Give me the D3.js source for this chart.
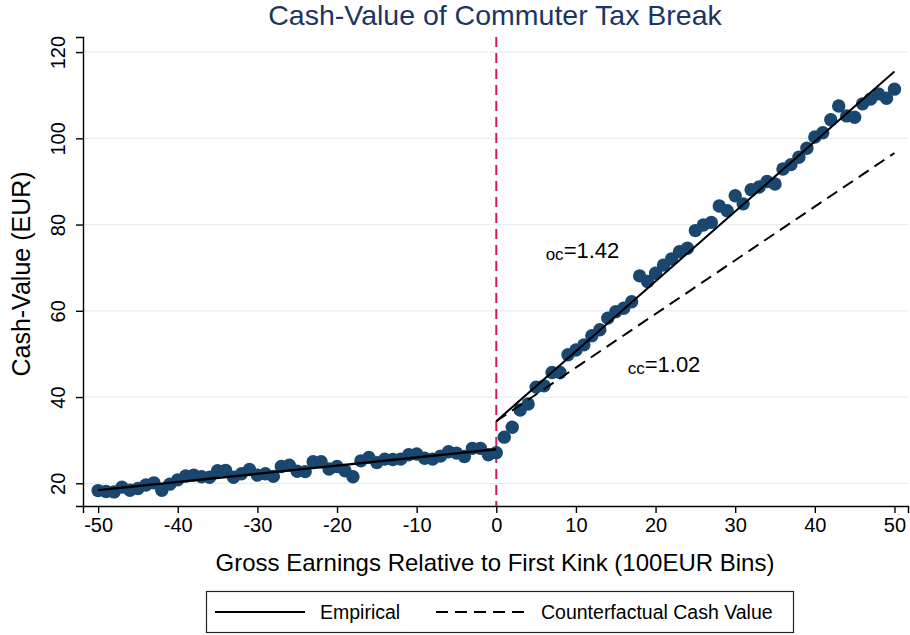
<!DOCTYPE html>
<html>
<head>
<meta charset="utf-8">
<script src="https://cdn.jsdelivr.net/npm/d3@7"></script>
<style>
  body { margin: 0; background: #fff; }
  svg { display: block; font-family: "Liberation Sans", Arial, sans-serif; }
</style>
</head>
<body>
<div id="chart"></div>
<script>
// bins of gross earnings relative to the first kink (100 EUR)
const bins = d3.range(-50, 51);

// mean cash value per bin (EUR)
const cashLeft = [
  18.3, 18.1, 18.0, 19.1, 18.4, 18.8, 19.6, 20.1, 18.4, 19.8,
  20.8, 21.7, 21.9, 21.5, 21.4, 22.9, 23.0, 21.4, 22.2, 23.2,
  21.9, 22.2, 21.6, 23.9, 24.2, 22.8, 22.7, 25.0, 25.0, 23.3,
  23.9, 22.9, 21.5, 25.2, 26.0, 24.8, 25.6, 25.5, 25.6, 26.6,
  26.8, 25.8, 25.6, 26.3, 27.3, 27.0, 26.2, 28.1, 28.1, 26.6
];
const cashKink = [27.1];
const cashRight = [
  30.7, 33.0, 37.0, 38.4, 42.3, 42.6, 45.7, 45.7, 49.8, 50.9,
  52.1, 54.2, 55.6, 58.3, 59.8, 60.6, 62.1, 68.1, 66.8, 68.7,
  70.6, 72.0, 73.7, 74.5, 78.6, 79.9, 80.5, 84.3, 83.2, 86.7,
  84.8, 88.1, 88.7, 90.0, 89.4, 92.9, 93.9, 95.6, 97.7, 100.3,
  101.3, 104.3, 107.5, 105.2, 104.9, 108.0, 109.1, 110.3, 109.3, 111.4
];
const cashValue = cashLeft.concat(cashKink, cashRight);

// fitted lines (endpoints)
const fitLeft = [[-50, 18.4], [0, 27.9]];
const fitRight = [[0, 34.4], [50, 115.5]];
const counterfactual = [[0, 34.4], [50, 96.6]];

const xTicks = [-50, -40, -30, -20, -10, 0, 10, 20, 30, 40, 50];
const yTicks = [20, 40, 60, 80, 100, 120];

const width = 910;
const height = 635;
const dotColor = '#1a476f';
const kinkColor = '#d41c4c';

const svg = d3.select('#chart')
  .append('svg')
  .attr('width', width)
  .attr('height', height);

const x = d3.scaleLinear().domain([-51.9, 51.7]).range([83, 908]);
const y = d3.scaleLinear().domain([14.73, 123.5]).range([506, 37]);

// gridlines
svg.append('g')
  .selectAll('line')
  .data(yTicks)
  .join('line')
  .attr('x1', x.range()[0])
  .attr('x2', x.range()[1])
  .attr('y1', (d) => y(d))
  .attr('y2', (d) => y(d))
  .attr('stroke', '#e6eef3')
  .attr('stroke-width', 1.2);

// kink marker
svg.append('line')
  .attr('x1', x(0))
  .attr('x2', x(0))
  .attr('y1', y.range()[1])
  .attr('y2', y.range()[0])
  .attr('stroke', kinkColor)
  .attr('stroke-width', 2)
  .attr('stroke-dasharray', '10,6');

// binned means
svg.append('g')
  .selectAll('circle')
  .data(bins.map((b, i) => [b, cashValue[i]]))
  .join('circle')
  .attr('cx', (d) => x(d[0]))
  .attr('cy', (d) => y(d[1]))
  .attr('r', 6.7)
  .attr('fill', dotColor);

const line = d3.line()
  .x((d) => x(d[0]))
  .y((d) => y(d[1]));

svg.append('path')
  .attr('d', line(fitLeft))
  .attr('fill', 'none')
  .attr('stroke', '#000')
  .attr('stroke-width', 2.4);

svg.append('path')
  .attr('d', line(fitRight))
  .attr('fill', 'none')
  .attr('stroke', '#000')
  .attr('stroke-width', 2);

svg.append('path')
  .attr('d', line(counterfactual))
  .attr('fill', 'none')
  .attr('stroke', '#000')
  .attr('stroke-width', 2)
  .attr('stroke-dasharray', '12,7');

// axes
const plain = (d) => String(d);
const xAxis = svg.append('g')
  .attr('transform', `translate(0,${y.range()[0]})`)
  .call(d3.axisBottom(x).tickValues(xTicks).tickFormat(plain)
    .tickSizeOuter(0).tickSize(7).tickPadding(5));

const yAxis = svg.append('g')
  .attr('transform', `translate(${x.range()[0]},0)`)
  .call(d3.axisLeft(y).tickValues(yTicks).tickFormat(plain)
    .tickSizeOuter(0).tickSize(7));

[xAxis, yAxis].forEach((a) => {
  a.select('.domain').attr('stroke', '#000').attr('stroke-width', 1.4);
  a.selectAll('.tick line').attr('stroke', '#000').attr('stroke-width', 1.4);
  a.selectAll('text')
    .attr('font-size', 20)
    .attr('fill', '#000')
    .attr('font-family', '"Liberation Sans", Arial, sans-serif');
});

yAxis.selectAll('.tick text')
  .attr('transform', 'rotate(-90)')
  .attr('x', 0)
  .attr('y', -18)
  .attr('dy', '0')
  .attr('text-anchor', 'middle');

// titles
svg.append('text')
  .attr('x', 495)
  .attr('y', 25)
  .attr('text-anchor', 'middle')
  .attr('font-size', 28.5)
  .attr('fill', '#1c3565')
  .text('Cash-Value of Commuter Tax Break');

svg.append('text')
  .attr('x', 495)
  .attr('y', 571)
  .attr('text-anchor', 'middle')
  .attr('font-size', 24)
  .text('Gross Earnings Relative to First Kink (100EUR Bins)');

svg.append('text')
  .attr('transform', 'translate(30,274) rotate(-90)')
  .attr('text-anchor', 'middle')
  .attr('font-size', 25)
  .text('Cash-Value (EUR)');

// elasticity annotations
const notes = [
  { sub: 'oc', val: '=1.42', at: [6.2, 72.3] },
  { sub: 'cc', val: '=1.02', at: [16.5, 45.8] }
];
notes.forEach((n) => {
  const t = svg.append('text')
    .attr('x', x(n.at[0]))
    .attr('y', y(n.at[1]))
    .attr('font-size', 22);
  t.append('tspan').attr('font-size', 17).attr('dy', 2).text(n.sub);
  t.append('tspan').attr('dy', -2).text(n.val);
});

// legend
const legend = svg.append('g');
legend.append('rect')
  .attr('x', 206.5)
  .attr('y', 591.5)
  .attr('width', 587)
  .attr('height', 41)
  .attr('fill', '#fff')
  .attr('stroke', '#222')
  .attr('stroke-width', 1.2);

const legendItems = [
  { label: 'Empirical', dash: null, x0: 215 },
  { label: 'Counterfactual Cash Value', dash: '12,7', x0: 436 }
];
legendItems.forEach((d) => {
  legend.append('line')
    .attr('x1', d.x0)
    .attr('x2', d.x0 + 90)
    .attr('y1', 612)
    .attr('y2', 612)
    .attr('stroke', '#000')
    .attr('stroke-width', 2)
    .attr('stroke-dasharray', d.dash);
  legend.append('text')
    .attr('x', d.x0 + 105)
    .attr('y', 619)
    .attr('font-size', 19.5)
    .text(d.label);
});
</script>
</body>
</html>
